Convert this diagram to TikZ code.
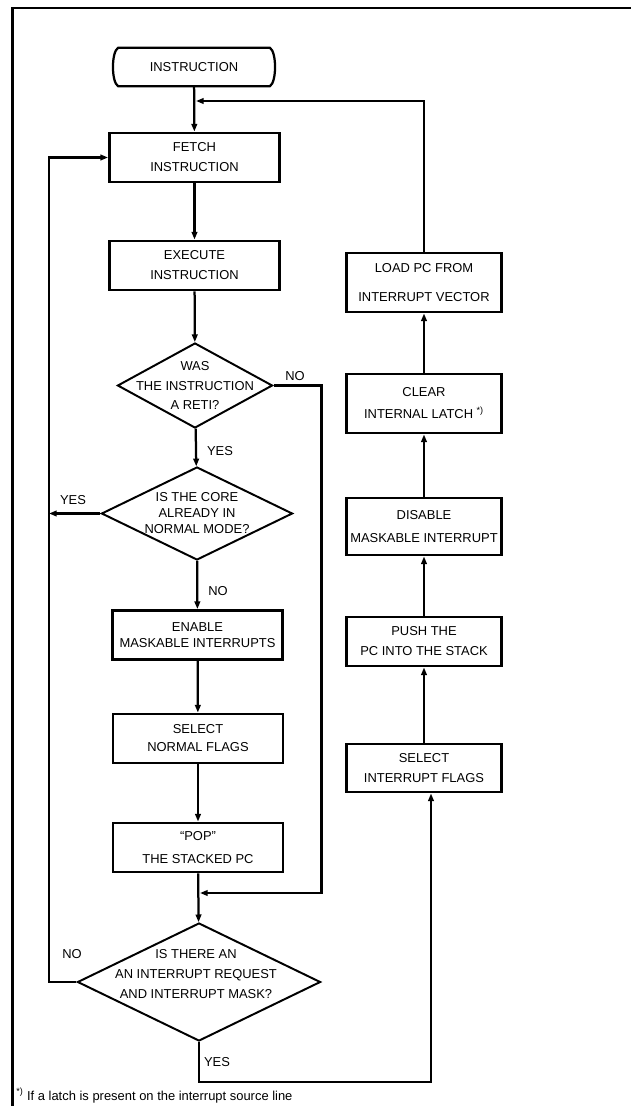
\documentclass[tikz,border=0pt]{standalone}
\usepackage{fontspec}
\setmainfont{Liberation Sans}
\usetikzlibrary{arrows.meta,shapes.geometric,calc}

\tikzset{
  box/.style={draw,line width=2pt,minimum width=4.25cm,minimum height=1.225cm,align=center,inner sep=1pt},
  rbox/.style={box,minimum width=3.875cm},
  decision/.style={draw,diamond,line width=1.4pt,inner sep=0pt},
  txt/.style={align=center,inner sep=0pt},
  lbl/.style={inner sep=0pt},
  line/.style={line width=1.6pt},
  arr/.style={line,-{Triangle[length=5.5pt,width=4pt]}},
}

\begin{document}
\begin{tikzpicture}[x=0.025cm,y=-0.025cm,font=\fontsize{9.2}{14.2}\selectfont]
        \useasboundingbox (0,0) rectangle (631,1106);

        % 枠 (左と上だけ)
        \draw[line width=2.1pt] (12.5,1106) -- (12.5,8) -- (631,8);

        % 開始
        \node[txt,minimum width=4.125cm,minimum height=0.95cm] (start) at (194,67) {INSTRUCTION};
        \draw[line] ([xshift=0.175cm]start.north west) -- ([xshift=-0.175cm]start.north east)
        .. controls ([yshift=-0.1cm]start.north east) and ([yshift=0.1cm]start.south east) .. ([xshift=-0.175cm]start.south east)
        -- ([xshift=0.175cm]start.south west)
        .. controls ([yshift=0.1cm]start.south west) and ([yshift=-0.1cm]start.north west) .. cycle;

        % 左の列
        \node[box] (fetch) at (194.5,157.5) {FETCH\\INSTRUCTION};
        \node[box] (exec) at (194.5,265.5) {EXECUTE\\INSTRUCTION};
        \node[decision,minimum width=3.875cm,minimum height=2.125cm] (reti) at (195,385.5) {};
        \node[txt] (retitext) at (reti) {WAS\\THE INSTRUCTION\\A RETI?};
        \node[decision,minimum width=4.775cm,minimum height=2.325cm] (normal) at (197,513.5) {};
        \node[txt] (normaltext) at (normal) {IS THE CORE\\[-2.8pt]ALREADY IN\\[-2.8pt]NORMAL MODE?};
        \node[box] (enable) at (197.5,635) {ENABLE\\[-2.8pt]MASKABLE INTERRUPTS};
        \node[box] (selnorm) at (198,738.5) {SELECT\\[-1.4pt]NORMAL FLAGS};
        \node[box] (pop) at (198,847.5) {“POP”\\[2pt]THE STACKED PC};
        \node[decision,minimum width=6.075cm,minimum height=2.95cm] (irq) at (199,982) {};
        \node[txt] (irqtext) at (196,974) {IS THERE AN\\AN INTERRUPT REQUEST\\AND INTERRUPT MASK?};

        % 右の列
        \node[rbox,minimum height=1.475cm] (load) at (424,282.5) {LOAD PC FROM\\[7pt]INTERRUPT VECTOR};
        \node[rbox,minimum height=1.475cm] (clear) at (424,403.5) {CLEAR\\[1.4pt]INTERNAL LATCH \textsuperscript{*)}};
        \node[rbox,minimum height=1.425cm] (disable) at (424,526.5) {DISABLE\\[2pt]MASKABLE INTERRUPT};
        \node[rbox] (push) at (424,641.5) {PUSH THE\\PC INTO THE STACK};
        \node[rbox,minimum height=1.2cm] (selint) at (424,768) {SELECT\\INTERRUPT FLAGS};

        % 分岐の文字
        \node[lbl] (noreti) at (295,376) {NO};
        \node[lbl] (yesreti) at (220,451) {YES};
        \node[lbl] (yesnormal) at (73,500) {YES};
        \node[lbl] (nonormal) at (218,591) {NO};
        \node[lbl] (noirq) at (72,954) {NO};
        \node[lbl] (yesirq) at (217,1062) {YES};

        % 注
        \node[lbl,anchor=base west] (note) at (16,1100) {\textsuperscript{*)} If a latch is present on the interrupt source line};

        % 矢印
        \coordinate (ret) at (196,101);
        \coordinate (loopL) at (49,157.5);
        \coordinate (merge) at (200,893);
        \coordinate (yesR) at (431,1082);
        \draw[arr] (start) -- (fetch);
        \draw[arr] (load.north) |- (ret);
        \draw[arr] (fetch) -- (exec);
        \draw[arr] (exec) -- (reti);
        \draw[arr] (reti) -- (normal);
        \draw[arr] (normal.west) -- (normal.west -| loopL);
        \draw[arr] (normal) -- (enable);
        \draw[arr] (enable) -- (selnorm);
        \draw[arr] (selnorm) -- (pop);
        \draw[arr] (pop) -- (irq);
        \draw[arr] (reti.east) -- (reti.east -| irq.east) |- (merge);
        \draw[arr] (irq.west) -| (loopL) -- (fetch.west);
        \draw[arr] (irq.south) |- (yesR) -- (yesR |- selint.south);
        \draw[arr] (selint) -- (push);
        \draw[arr] (push) -- (disable);
        \draw[arr] (disable) -- (clear);
        \draw[arr] (clear) -- (load);

    \end{tikzpicture}
\end{document}
